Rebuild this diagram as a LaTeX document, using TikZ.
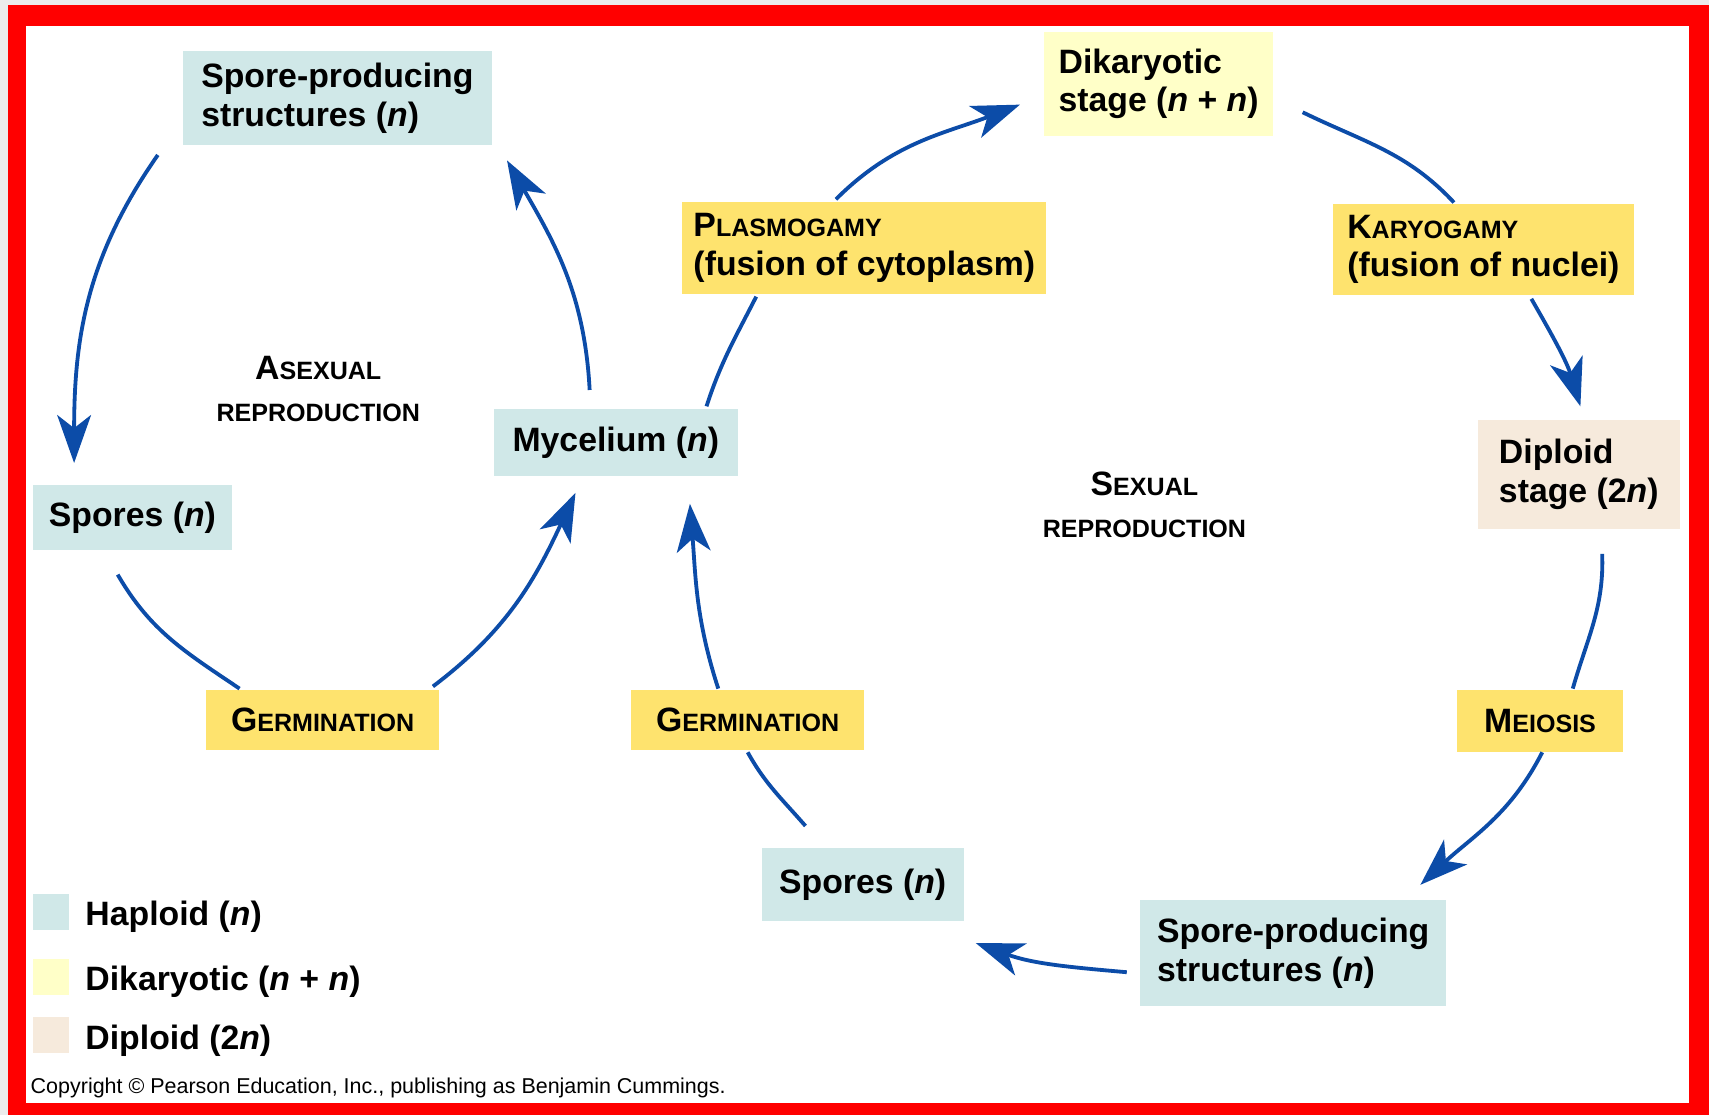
\documentclass[tikz,border=0pt]{standalone}
\usepackage{fontspec}
\setmainfont{Liberation Sans}
\usetikzlibrary{arrows.meta,positioning}

\definecolor{hapblue}{RGB}{208,232,232}
\definecolor{dikyel}{RGB}{255,255,200}
\definecolor{dipbeige}{RGB}{246,234,220}
\definecolor{evtyel}{RGB}{254,227,110}
\definecolor{arrblue}{RGB}{12,76,168}

\newcommand{\capsc}[2]{#1{\fontsize{23}{35}\selectfont #2}}

\begin{document}
\begin{tikzpicture}[x=1pt,y=1pt,
  box/.style={inner sep=0pt, align=left, font=\bfseries\fontsize{31}{35.3}\selectfont},
  haploid/.style={box, fill=hapblue},
  dikaryon/.style={box, fill=dikyel},
  diploid/.style={box, fill=dipbeige},
  event/.style={box, fill=evtyel},
  title/.style={inner sep=0pt, align=center, font=\bfseries\fontsize{31}{39}\selectfont},
  link/.style={arrblue, line width=3.5pt},
  arr/.style={link, -{Stealth[length=44pt,width=31pt,inset=12pt]}}]
  \useasboundingbox (0,0) rectangle (1568,-1023);
  % frame
  \fill [gray!15] (0,0) rectangle (1568,-1023);
  \fill [red] (7,-5) rectangle (1568,-1023);
  \fill [white] (24,-24) rectangle (1550,-1012);

  % asexual cycle
  \node [haploid, minimum width=283pt, minimum height=86pt] (spa) at (309.5,-90) {Spore-producing\\structures (\textit{n})};
  \node [haploid, minimum width=183pt, minimum height=60pt] (spl) at (121.5,-475) {Spores (\textit{n})};
  \node [haploid, minimum width=224pt, minimum height=62pt] (myc) at (565,-406) {Mycelium (\textit{n})};
  \node [event, minimum width=214pt, minimum height=55pt] (gel) at (296,-660.5) {\capsc{G}{ERMINATION}};
  \node [title] (asex) at (292,-357) {\capsc{A}{SEXUAL}\\{\fontsize{23}{39}\selectfont REPRODUCTION}};

  % sexual cycle
  \node [event, minimum width=334pt, minimum height=85pt] (pla) at (793,-227.5) {\capsc{P}{LASMOGAMY}\\(fusion of cytoplasm)};
  \node [dikaryon, minimum width=210pt, minimum height=96pt] (dik) at (1063,-77) {Dikaryotic\\stage (\textit{n} + \textit{n})};
  \node [event, minimum width=276pt, minimum height=84pt] (kar) at (1361,-229) {\capsc{K}{ARYOGAMY}\\(fusion of nuclei)};
  \node [diploid, minimum width=185pt, minimum height=100pt] (dip) at (1448.5,-435) {Diploid\\stage (2\textit{n})};
  \node [event, minimum width=152pt, minimum height=57pt] (mei) at (1413,-661.5) {\capsc{M}{EIOSIS}};
  \node [haploid, minimum width=281pt, minimum height=97pt] (spr) at (1186.5,-874.5) {Spore-producing\\structures (\textit{n})};
  \node [haploid, minimum width=185pt, minimum height=67pt] (spb) at (791.5,-811.5) {Spores (\textit{n})};
  \node [event, minimum width=214pt, minimum height=55pt] (ger) at (686,-660.5) {\capsc{G}{ERMINATION}};
  \node [title] (sex) at (1050,-463) {\capsc{S}{EXUAL}\\{\fontsize{23}{39}\selectfont REPRODUCTION}};

  % legend
  \node [haploid, minimum size=33pt] (lhap) at (46.5,-836.5) {};
  \node [dikaryon, minimum size=33pt] (ldik) at (46.5,-896.5) {};
  \node [diploid, minimum size=33pt] (ldip) at (46.5,-949.5) {};
  \node [box, right=15pt of lhap, yshift=-4.5pt] (thap) {Haploid (\textit{n})};
  \node [box, right=15pt of ldik, yshift=-4.5pt] (tdik) {Dikaryotic (\textit{n} + \textit{n})};
  \node [box, right=15pt of ldip, yshift=-5.5pt] (tdip) {Diploid (2\textit{n})};
  \node [inner sep=0pt, anchor=west, font=\fontsize{19.7}{22}\selectfont] (copy) at (28,-998) {Copyright © Pearson Education, Inc., publishing as Benjamin Cummings.};

  \path
  ([shift={(-23,-9)}]spa.south west) edge [arr, out=235, in=90] ([shift={(-53.5,20)}]spl.north)
  ([shift={(-6,3)}]gel.north east) edge [arr, out=37, in=245] ([shift={(-37,-15)}]myc.south)
  ([shift={(-24,17)}]myc.north) edge [arr, out=93, in=300] ([shift={(14,-14)}]spa.south east)
  ([shift={(-26,2)}]pla.north) edge [arr, out=45, in=201] ([shift={(-22,-19)}]dik.west)
  ([shift={(44,-3)}]kar.south) edge [arr, out=-60, in=107] ([shift={(1.5,12)}]dip.north)
  ([shift={(2,0)}]mei.south) edge [arr, out=243, in=43] ([shift={(-24,14)}]spr.north east)
  ([shift={(-12,-17.5)}]spr.west) edge [arr, out=175, in=340] ([shift={(11,-20)}]spb.south east)
  ([shift={(-27,1)}]ger.north) edge [arr, out=108, in=274.5] ([shift={(68,-25)}]myc.south);
  \path
  ([shift={(-13.5,-22)}]spl.south) edge [link, out=300, in=146] ([shift={(31,1)}]gel.north west)
  ([shift={(-29,2)}]myc.north east) edge [link, out=72, in=243] ([shift={(68,-2)}]pla.south west)
  ([shift={(27,-26)}]dik.east) edge [link, out=-26, in=133] ([shift={(-27,1)}]kar.north)
  ([shift={(21.5,-23)}]dip.south) edge [link, out=-88, in=74] ([shift={(30,1)}]mei.north)
  ([shift={(-52.5,20)}]spb.north) edge [link, out=131, in=299] ([shift={(0,-2)}]ger.south);
\end{tikzpicture}
\end{document}
